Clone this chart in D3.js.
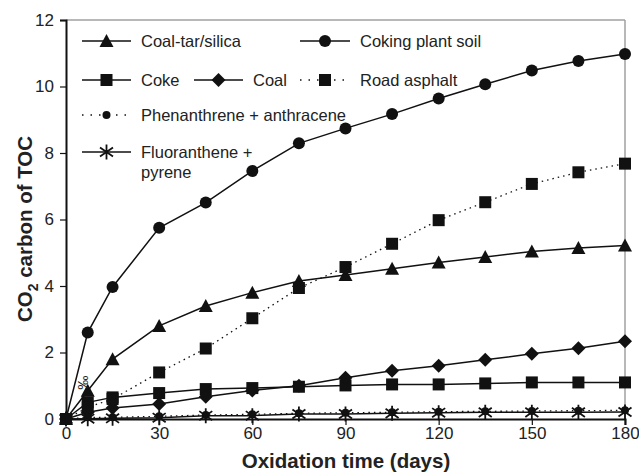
<!DOCTYPE html>
<html>
<head>
<meta charset="utf-8">
<script src="https://cdn.jsdelivr.net/npm/d3@7"></script>
<style>
  body { margin: 0; background: #fff; }
  text { font-family: "Liberation Sans", Arial, sans-serif; }
</style>
</head>
<body>
<div class="chart"></div>
<script>
// Oxidation days
const days = [0, 7, 15, 30, 45, 60, 75, 90, 105, 120, 135, 150, 165, 180];

const coalTar   = [0, 0.85, 1.8, 2.8, 3.4, 3.8, 4.15, 4.33, 4.52, 4.71, 4.87, 5.04, 5.14, 5.22];
const coking    = [0, 2.6, 3.97, 5.75, 6.51, 7.46, 8.29, 8.74, 9.17, 9.64, 10.07, 10.48, 10.77, 10.98];
const coke      = [0, 0.5, 0.65, 0.78, 0.9, 0.93, 0.97, 1.01, 1.04, 1.04, 1.07, 1.1, 1.1, 1.1];
const coal      = [0, 0.2, 0.33, 0.45, 0.67, 0.86, 1.0, 1.24, 1.45, 1.6, 1.78, 1.96, 2.13, 2.34];
const asphalt   = [0, 0.35, 0.6, 1.4, 2.12, 3.03, 3.94, 4.57, 5.27, 5.98, 6.52, 7.07, 7.42, 7.68];
const phen      = [0, 0.05, 0.05, 0.08, 0.12, 0.14, 0.17, 0.19, 0.2, 0.22, 0.23, 0.24, 0.25, 0.26];
const fluor     = [0, 0.01, 0.02, 0.04, 0.1, 0.1, 0.15, 0.15, 0.17, 0.19, 0.2, 0.2, 0.2, 0.21];

const xTicks = [0, 30, 60, 90, 120, 150, 180];
const yTicks = [0, 2, 4, 6, 8, 10, 12];

const series = [
  {name: "Coal-tar/silica", values: coalTar, marker: "triangle", dash: null},
  {name: "Coking plant soil", values: coking, marker: "circle", dash: null},
  {name: "Coke", values: coke, marker: "square", dash: null},
  {name: "Coal", values: coal, marker: "diamond", dash: null},
  {name: "Road asphalt", values: asphalt, marker: "square", dash: "1.5,4"},
  {name: "Phenanthrene + anthracene", values: phen, marker: "smallcircle", dash: "1.5,4"},
  {name: "Fluoranthene + pyrene", values: fluor, marker: "star", dash: null}
];

const width = 639, height = 473;
const margin = {left: 66, right: 14, top: 20, bottom: 54};

const svg = d3.select(".chart")
  .append("svg")
  .attr("width", width)
  .attr("height", height);

const x = d3.scaleLinear().domain([0, 180]).range([margin.left, width - margin.right]);
const y = d3.scaleLinear().domain([0, 12]).range([height - margin.bottom, margin.top]);

// frame (grey top + right)
svg.append("line")
  .attr("x1", x(0)).attr("x2", x(180))
  .attr("y1", y(12)).attr("y2", y(12))
  .attr("stroke", "#a0a0a0").attr("stroke-width", 1.5);
svg.append("line")
  .attr("x1", x(180)).attr("x2", x(180))
  .attr("y1", y(12)).attr("y2", y(0) + 6)
  .attr("stroke", "#a0a0a0").attr("stroke-width", 1.5);

// markers
function drawMarker(g, type, cx, cy){
  if(type === "circle"){
    g.append("circle").attr("cx", cx).attr("cy", cy).attr("r", 6).attr("fill", "#111");
  } else if(type === "smallcircle"){
    g.append("circle").attr("cx", cx).attr("cy", cy).attr("r", 4).attr("fill", "#111");
  } else if(type === "triangle"){
    g.append("path")
      .attr("d", `M${cx},${cy-7}L${cx+7},${cy+6}L${cx-7},${cy+6}Z`)
      .attr("fill", "#111");
  } else if(type === "square"){
    g.append("rect").attr("x", cx-6).attr("y", cy-6).attr("width", 12).attr("height", 12).attr("fill", "#111");
  } else if(type === "diamond"){
    g.append("path")
      .attr("d", `M${cx},${cy-7}L${cx+7},${cy}L${cx},${cy+7}L${cx-7},${cy}Z`)
      .attr("fill", "#111");
  } else if(type === "star"){
    const s = 6.5;
    g.append("path")
      .attr("d", `M${cx},${cy-s-1}L${cx},${cy+s+1}M${cx-s},${cy-s*0.7}L${cx+s},${cy+s*0.7}M${cx-s},${cy+s*0.7}L${cx+s},${cy-s*0.7}`)
      .attr("stroke", "#111").attr("stroke-width", 1.8).attr("fill", "none");
  }
}

const line = d3.line()
  .x((d, i) => x(days[i]))
  .y(d => y(d));

// series
series.forEach(s => {
  const g = svg.append("g");
  g.append("path")
    .datum(s.values)
    .attr("d", line)
    .attr("fill", "none")
    .attr("stroke", "#111")
    .attr("stroke-width", s.dash ? 1.3 : 1.5)
    .attr("stroke-dasharray", s.dash);
  s.values.forEach((v, i) => drawMarker(g, s.marker, x(days[i]), y(v)));
});

// axes
const xAxis = svg.append("g")
  .attr("transform", `translate(0,${y(0)})`)
  .call(d3.axisBottom(x).tickValues(xTicks).tickSize(6).tickPadding(2).tickFormat(d3.format("d")));
xAxis.select(".domain").attr("stroke", "#111").attr("stroke-width", 2);
xAxis.selectAll(".tick line").attr("stroke", "#111").attr("stroke-width", 1.2);
xAxis.selectAll(".tick text").attr("font-size", 17).attr("fill", "#222")
  .attr("font-family", "Liberation Sans, Arial, sans-serif");

const yAxis = svg.append("g")
  .attr("transform", `translate(${x(0)},0)`)
  .call(d3.axisLeft(y).tickValues(yTicks).tickSize(6).tickPadding(6));
yAxis.select(".domain").attr("stroke", "#111").attr("stroke-width", 2);
yAxis.selectAll(".tick line").attr("stroke", "#111").attr("stroke-width", 1.2);
yAxis.selectAll(".tick text").attr("font-size", 17).attr("fill", "#222")
  .attr("font-family", "Liberation Sans, Arial, sans-serif");

// axis titles
svg.append("text")
  .attr("x", 346)
  .attr("y", 468)
  .attr("text-anchor", "middle")
  .attr("font-size", 20.5)
  .attr("font-weight", "bold")
  .attr("fill", "#222")
  .text("Oxidation time (days)");

const yt = svg.append("text")
  .attr("transform", `translate(32,229) rotate(-90)`)
  .attr("text-anchor", "middle")
  .attr("font-size", 20.5)
  .attr("font-weight", "bold")
  .attr("fill", "#222");
yt.append("tspan").text("CO");
yt.append("tspan").attr("font-size", 14).attr("dy", 6).text("2");
yt.append("tspan").attr("dy", -6).text(" carbon of TOC");

// stray per-mille label
svg.append("text")
  .attr("transform", `translate(88,${y(1.1)}) rotate(-90)`)
  .attr("text-anchor", "middle")
  .attr("font-size", 14)
  .attr("fill", "#222")
  .text("‰");

// legend
const legendItems = [
  {s: 0, lx: 82, ty: 41, tx: 141},
  {s: 1, lx: 300, ty: 41, tx: 360},
  {s: 2, lx: 82, ty: 80, tx: 141},
  {s: 3, lx: 194, ty: 80, tx: 253},
  {s: 4, lx: 300, ty: 80, tx: 360},
  {s: 5, lx: 82, ty: 115, tx: 141},
  {s: 6, lx: 82, ty: 152, tx: 141}
];
const legend = svg.append("g");
legendItems.forEach(it => {
  const s = series[it.s];
  const len = it.tx - it.lx - 10;
  legend.append("line")
    .attr("x1", it.lx).attr("x2", it.lx + len)
    .attr("y1", it.ty).attr("y2", it.ty)
    .attr("stroke", "#111")
    .attr("stroke-width", s.dash ? 1.3 : 1.5)
    .attr("stroke-dasharray", s.dash ? "1.5,7" : null);
  drawMarker(legend, s.marker, it.lx + len / 2, it.ty);
  const t = legend.append("text")
    .attr("x", it.tx).attr("y", it.ty + 6)
    .attr("font-size", 16.5)
    .attr("fill", "#222");
  if(it.s === 6){
    t.append("tspan").attr("x", it.tx).text("Fluoranthene +");
    t.append("tspan").attr("x", it.tx).attr("dy", 20).text("pyrene");
  } else {
    t.text(s.name);
  }
});
</script>
</body>
</html>
